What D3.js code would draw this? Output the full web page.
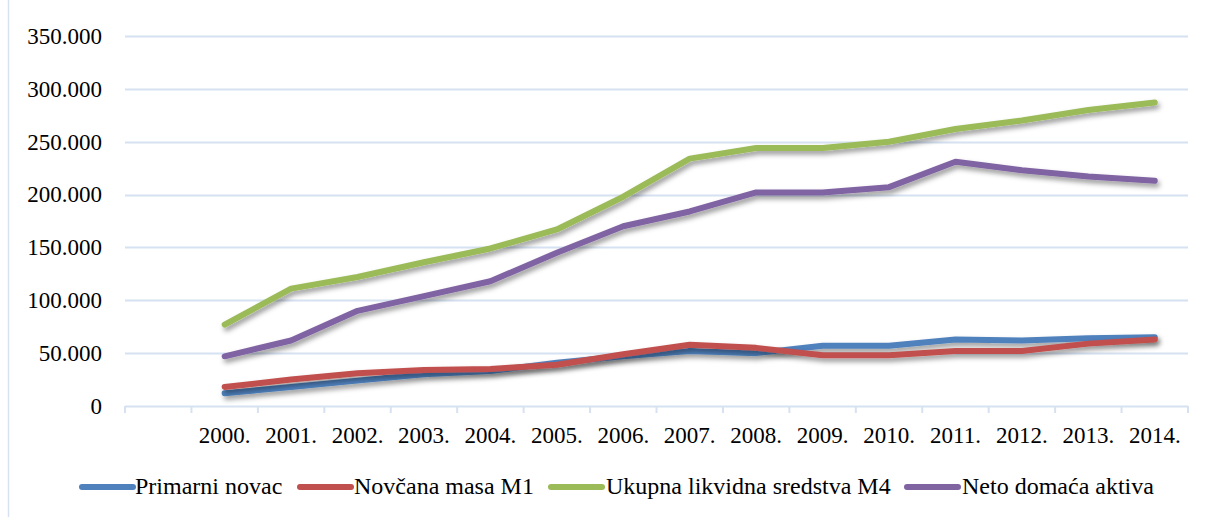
<!DOCTYPE html>
<html>
<head>
<meta charset="utf-8">
<script src="https://cdn.jsdelivr.net/npm/d3@7"></script>
<style>
  html, body { margin: 0; padding: 0; background: #fff; }
  svg { display: block; }
  svg text { font-family: "Times New Roman", Times, "Liberation Serif", "Nimbus Roman", "Nimbus Roman No9 L", Tinos, "FreeSerif", "Noto Serif", "DejaVu Serif", Georgia, serif; }
</style>
</head>
<body>
<svg id="chart" width="1215" height="517"></svg>
<script>
// ---- data ----
const categories = ["", "2000.", "2001.", "2002.", "2003.", "2004.", "2005.", "2006.", "2007.", "2008.", "2009.", "2010.", "2011.", "2012.", "2013.", "2014."];
const years = ["2000.", "2001.", "2002.", "2003.", "2004.", "2005.", "2006.", "2007.", "2008.", "2009.", "2010.", "2011.", "2012.", "2013.", "2014."];
const seriesNames = ["Primarni novac", "Novčana masa M1", "Ukupna likvidna sredstva M4", "Neto domaća aktiva"];
const primarniNovac = [12000, 18000, 24000, 30000, 33000, 41000, 47000, 52000, 50000, 57000, 57000, 63000, 62000, 64000, 65000];
const novcanaMasaM1 = [18000, 25000, 31000, 34000, 35000, 39000, 49000, 58000, 55000, 48000, 48000, 52000, 52000, 59000, 63000];
const ukupnaM4 = [77000, 111000, 122000, 136000, 149000, 167000, 198000, 234000, 244000, 244000, 250000, 262000, 270000, 280000, 287000];
const netoDomacaAktiva = [47000, 62000, 90000, 104000, 118000, 145000, 170000, 184000, 202000, 202000, 207000, 231000, 223000, 217000, 213000];
const yTicks = [0, 50000, 100000, 150000, 200000, 250000, 300000, 350000];
const colors = ["#4F81BD", "#C0504D", "#9BBB59", "#8064A2"];

// ---- layout ----
const svg = d3.select("#chart");
const plot = { left: 125, right: 1188, top: 36, bottom: 406 };
const gridColor = "#d6e2f1";
const fontSize = 23;

const x = d3.scaleBand().domain(categories).range([plot.left, plot.right]).paddingInner(0).paddingOuter(0);
const y = d3.scaleLinear().domain([0, 350000]).range([plot.bottom, plot.top]);

const locale = d3.formatLocale({ decimal: ",", thousands: ".", grouping: [3], currency: ["", ""] });
const fmt = locale.format(",.0f");

// shadow filter
const defs = svg.append("defs");
const f = defs.append("filter").attr("id", "shadow").attr("x", "-5%").attr("y", "-20%").attr("width", "110%").attr("height", "140%");
f.append("feDropShadow").attr("dx", 2).attr("dy", 3.5).attr("stdDeviation", 2.5).attr("flood-color", "#000").attr("flood-opacity", 0.4);

// chart border (left edge visible)
svg.append("line").attr("x1", 8.5).attr("x2", 8.5).attr("y1", 0).attr("y2", 517)
  .attr("stroke", gridColor).attr("stroke-width", 1.5);

// gridlines
svg.append("g").selectAll("line").data(yTicks.filter(d => d > 0)).join("line")
  .attr("x1", plot.left).attr("x2", plot.right)
  .attr("y1", d => Math.round(y(d)) + 0.5).attr("y2", d => Math.round(y(d)) + 0.5)
  .attr("stroke", gridColor).attr("stroke-width", 2);

// y axis labels
const yAxis = d3.axisLeft(y).tickValues(yTicks).tickFormat(fmt).tickSize(0).tickPadding(23);
const gy = svg.append("g").attr("transform", `translate(${plot.left},0)`).call(yAxis);
gy.attr("font-family", null).attr("font-size", null);
gy.select(".domain").remove();
gy.selectAll("text").attr("font-size", fontSize).attr("fill", "#000");

// x axis
const xAxis = d3.axisBottom(x).tickSize(0).tickPadding(0);
const gx = svg.append("g").attr("transform", `translate(0,${plot.bottom})`).call(xAxis);
gx.attr("font-family", null).attr("font-size", null);
gx.select(".domain").remove();
gx.selectAll("text").attr("font-size", fontSize).attr("fill", "#000").attr("dy", 0).attr("y", 37);
svg.append("line").attr("x1", plot.left).attr("x2", plot.right)
  .attr("y1", plot.bottom + 0.5).attr("y2", plot.bottom + 0.5)
  .attr("stroke", gridColor).attr("stroke-width", 2);
const boundaries = categories.map(c => x(c)).concat([x(categories[categories.length - 1]) + x.bandwidth()]);
svg.append("g").selectAll("line").data(boundaries).join("line")
  .attr("x1", d => d).attr("x2", d => d)
  .attr("y1", plot.bottom).attr("y2", plot.bottom + 7)
  .attr("stroke", gridColor).attr("stroke-width", 2);

// series lines
const allSeries = [primarniNovac, novcanaMasaM1, ukupnaM4, netoDomacaAktiva];
const line = d3.line().x((d, i) => x(years[i]) + x.bandwidth() / 2).y(d => y(d));
svg.append("g").selectAll("path").data(allSeries).join("path")
  .attr("d", d => line(d))
  .attr("fill", "none")
  .attr("stroke", (d, i) => colors[i])
  .attr("stroke-width", 6)
  .attr("stroke-linejoin", "round")
  .attr("stroke-linecap", "round")
  .attr("filter", "url(#shadow)");

// legend
const legendItems = [
  { x1: 82, x2: 133, tx: 135 },
  { x1: 300, x2: 351, tx: 354 },
  { x1: 551, x2: 602, tx: 606 },
  { x1: 907, x2: 958, tx: 962 }
];
const lg = svg.append("g");
seriesNames.forEach((name, i) => {
  const it = legendItems[i];
  lg.append("line").attr("x1", it.x1).attr("x2", it.x2).attr("y1", 487).attr("y2", 487)
    .attr("stroke", colors[i]).attr("stroke-width", 6).attr("stroke-linecap", "round");
  lg.append("text").attr("x", it.tx).attr("y", 494).attr("font-size", fontSize + 1).attr("fill", "#000")
    .text(name);
});
</script>
</body>
</html>
